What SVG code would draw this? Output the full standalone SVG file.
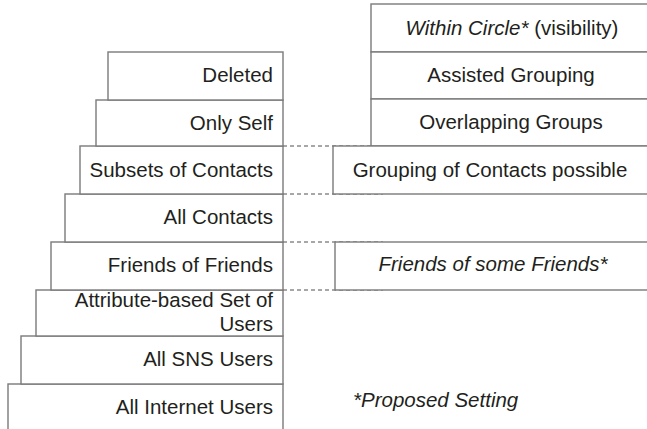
<svg xmlns="http://www.w3.org/2000/svg" width="647" height="429" viewBox="0 0 647 429">
<style>
.box{fill:#fff;stroke:#7a7a7a;stroke-width:1.4}
.t{font-family:"Liberation Sans",Arial,sans-serif;font-size:20.5px;fill:#231f20}
.r{text-anchor:end}
.c{text-anchor:middle}
.i{font-style:italic}
.dash{stroke:#8a8a8a;stroke-width:1.3;stroke-dasharray:4 3;fill:none}
</style>
<rect width="647" height="429" fill="#fff"/>
<g id="connectors">
<line class="dash" x1="283" y1="146" x2="371" y2="146"/>
<line class="dash" x1="283" y1="194" x2="383" y2="194"/>
<line class="dash" x1="283" y1="242" x2="383" y2="242"/>
<line class="dash" x1="283" y1="290" x2="383" y2="290"/>
</g>
<g id="all-internet-users"><rect class="box" x="8" y="384" width="275" height="60"/><text class="t r" x="273" y="414">All Internet Users</text></g>
<g id="all-sns-users"><rect class="box" x="21" y="336" width="262" height="48"/><text class="t r" x="273" y="366">All SNS Users</text></g>
<g id="attribute-based"><rect class="box" x="36" y="290" width="247" height="46"/><text class="t r" x="273" y="307">Attribute-based Set of</text><text class="t r" x="273" y="331">Users</text></g>
<g id="friends-of-friends"><rect class="box" x="51" y="242" width="232" height="48"/><text class="t r" x="273" y="272">Friends of Friends</text></g>
<g id="all-contacts"><rect class="box" x="65" y="194" width="218" height="48"/><text class="t r" x="273" y="224">All Contacts</text></g>
<g id="subsets-of-contacts"><rect class="box" x="80" y="146" width="203" height="48"/><text class="t r" x="273" y="177">Subsets of Contacts</text></g>
<g id="only-self"><rect class="box" x="96" y="100" width="187" height="46"/><text class="t r" x="273" y="130">Only Self</text></g>
<g id="deleted"><rect class="box" x="108" y="52" width="175" height="48"/><text class="t r" x="273" y="82">Deleted</text></g>
<g id="within-circle"><rect class="box" x="371" y="4" width="290" height="48"/><text class="t c" x="512" y="35"><tspan class="i">Within Circle*</tspan> (visibility)</text></g>
<g id="assisted-grouping"><rect class="box" x="371" y="52" width="290" height="47"/><text class="t c" x="511" y="82">Assisted Grouping</text></g>
<g id="overlapping-groups"><rect class="box" x="371" y="99" width="290" height="47"/><text class="t c" x="511" y="129">Overlapping Groups</text></g>
<g id="grouping-of-contacts"><rect class="box" x="333" y="146" width="328" height="48"/><text class="t c" x="490" y="177">Grouping of Contacts possible</text></g>
<g id="friends-of-some-friends"><rect class="box" x="335" y="242" width="326" height="48"/><text class="t c i" x="493" y="271">Friends of some Friends*</text></g>
<text class="t i" x="353" y="407">*Proposed Setting</text>
</svg>
